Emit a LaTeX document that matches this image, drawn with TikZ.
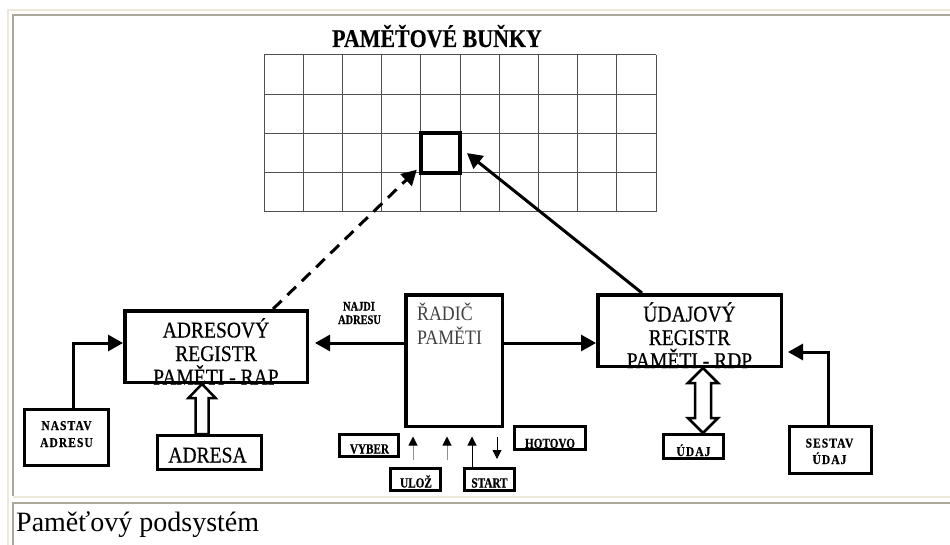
\documentclass[tikz,border=0pt]{standalone}
\usepackage{fontspec}
\setmainfont{Liberation Serif}
\newfontfamily\condfont[FakeStretch=0.87,FakeBold=0.4]{Liberation Serif}
\newfontfamily\radfont[FakeStretch=0.87]{Liberation Serif}
\newfontfamily\lblfont[FakeStretch=0.8,FakeBold=0.6]{Liberation Serif}
\newfontfamily\spacedfont[LetterSpace=8,FakeStretch=0.85,FakeBold=0.5]{Liberation Serif}
\newfontfamily\titlefont[FakeStretch=0.86,FakeBold=0.4]{Liberation Serif}
\usetikzlibrary{arrows.meta,calc}
\definecolor{beigeline}{HTML}{ECE9D8}
\definecolor{grayline}{HTML}{ACA899}
\definecolor{gridline}{HTML}{505050}
\definecolor{radictext}{HTML}{404040}
\definecolor{thinarrow}{HTML}{909090}
\begin{document}
\begin{tikzpicture}[x=1pt,y=-1pt,
  bigbox/.style={draw, line width=3.5pt, inner sep=0pt},
  smallbox/.style={draw, line width=3pt, inner sep=0pt},
  bigtext/.style={font=\condfont\fontsize{22.5}{26}\selectfont, inner sep=0pt, anchor=base},
  radtext/.style={font=\radfont\fontsize{20.5}{24}\selectfont, text=radictext, inner sep=0pt, anchor=base west},
  lbltext/.style={font=\lblfont\fontsize{14}{16}\selectfont\bfseries, inner sep=0pt, anchor=base},
  spacedtext/.style={font=\spacedfont\fontsize{13.5}{15}\selectfont\bfseries, inner sep=0pt, anchor=base},
  arr/.style={line width=3pt, -{Triangle[length=15pt,width=16pt]}},
  smallarr/.style={line width=1pt, -{Triangle[length=9pt,width=9pt,color=black]}},
  hollow/.style={draw, line width=2.5pt, fill=white, line join=miter},
  gridstyle/.style={gridline, line width=1pt}
]
\useasboundingbox (0,0) rectangle (950,545);
\fill[white] (0,0) rectangle (950,545);
% page frame
\fill[beigeline] (7,9) rectangle (950,11);
\fill[beigeline] (7,9) rectangle (9,545);
\fill[grayline] (12,14) rectangle (950,16);
\fill[grayline] (12,14) rectangle (14,496);
\fill[beigeline] (13,496) rectangle (950,498);
\fill[grayline] (12,502) rectangle (950,504);
\fill[grayline] (12,502) rectangle (14,545);

% title
\node[anchor=base, inner sep=0pt, font=\titlefont\bfseries\fontsize{25.5}{28}\selectfont] (title) at (437,47) {PAMĚŤOVÉ BUŇKY};

% memory cells grid
\foreach \i in {0,...,10} \draw[gridstyle] (264+39.2*\i,55) -- (264+39.2*\i,212);
\foreach \j in {0,...,4} \draw[gridstyle] (264,55+39.25*\j) -- (656,55+39.25*\j);
\node[draw, line width=4pt, minimum width=39.2pt, minimum height=39.25pt, inner sep=0pt] (cell) at (440.4,153.1) {};

% boxes
\node[bigbox, minimum width=182.5pt, minimum height=71.5pt] (rap) at (216,346.5) {};
\node[bigbox, minimum width=96.5pt, minimum height=131.5pt] (radic) at (454,360.5) {};
\node[bigbox, minimum width=183.5pt, minimum height=71.5pt] (rdp) at (689.5,330.5) {};
\node[smallbox, minimum width=84pt, minimum height=56pt] (nastav) at (66.5,437.5) {};
\node[smallbox, minimum width=104pt, minimum height=34pt] (adresa) at (209.5,452.5) {};
\node[smallbox, minimum width=59pt, minimum height=22pt] (vyber) at (369,445.5) {};
\node[smallbox, minimum width=50pt, minimum height=22pt] (uloz) at (415.5,479.5) {};
\node[smallbox, minimum width=50pt, minimum height=22pt] (start) at (489.5,479.5) {};
\node[smallbox, minimum width=71pt, minimum height=23pt] (hotovo) at (550,438) {};
\node[smallbox, minimum width=60pt, minimum height=24pt] (udaj) at (693.5,446.5) {};
\node[smallbox, minimum width=82pt, minimum height=47pt] (sestav) at (830.5,450) {};

% texts
\node[bigtext] (rapA) at (216,337.5) {ADRESOVÝ};
\node[bigtext] (rapB) at (216,361) {REGISTR};
\node[bigtext] (rapC) at (216,384.5) {PAMĚTI - RAP};
\node[bigtext] (rdpA) at (689.5,321.5) {ÚDAJOVÝ};
\node[bigtext] (rdpB) at (689.5,345) {REGISTR};
\node[bigtext] (rdpC) at (689.5,368) {PAMĚTI - RDP};
\node[radtext] (radA) at (417,320.5) {ŘADIČ};
\node[radtext] (radB) at (417,344) {PAMĚTI};
\node[bigtext] (adresaT) at (207.5,462.5) {ADRESA};
\node[spacedtext] (nastavA) at (66.5,430) {NASTAV};
\node[spacedtext] (nastavB) at (66.5,447) {ADRESU};
\node[spacedtext] (sestavA) at (829.5,447.5) {SESTAV};
\node[spacedtext] (sestavB) at (829.5,464) {ÚDAJ};
\node[spacedtext] (udajT) at (693.5,456) {ÚDAJ};
\node[lbltext] (vyberT) at (369.5,453.5) {VYBER};
\node[lbltext] (ulozT) at (416,487.5) {ULOŽ};
\node[lbltext] (startT) at (489.5,487.5) {START};
\node[lbltext] (hotovoT) at (550,448) {HOTOVO};
\node[lbltext, font=\lblfont\fontsize{13}{14}\selectfont\bfseries] (najdiA) at (359,310.5) {NAJDI};
\node[lbltext, font=\lblfont\fontsize{13}{14}\selectfont\bfseries] (najdiB) at (359.5,324) {ADRESU};

% connectors
\draw[arr, dash pattern=on 12pt off 8pt] ([xshift=57pt]rap.north) -- ([xshift=-2pt,yshift=5pt]cell.south west);
\draw[arr] ([xshift=-47.5pt]rdp.north) -- ([xshift=5pt]cell.east);
\draw[arr] ([xshift=6.5pt]nastav.north) |- ([yshift=3.5pt]rap.west);
\draw[arr, shorten >=6pt] ([yshift=17.5pt]radic.west) -- ([yshift=17.5pt]radic.west -| rap.east);
\draw[arr] ([yshift=17.5pt]radic.east) -- ([yshift=17.5pt]radic.east -| rdp.west);
\draw[arr, shorten >=5pt] ([xshift=-2.5pt]sestav.north) |- ([yshift=-21.5pt]rdp.east);

% hollow arrow ADRESA -> RAP
\coordinate (hA) at ([xshift=-14pt]rap.south);
\coordinate (hAtip) at (hA |- 0,384);
\path[hollow] (hAtip) -- ++(13.5,14) -- ++(-7,0) -- ++(0,36) -- ++(-13,0) -- ++(0,-36) -- ++(-7,0) -- cycle;

% double hollow arrow RDP <-> UDAJ
\coordinate (hD) at ([xshift=13.5pt]rdp.south);
\coordinate (hDtip) at (hD |- 0,368);
\path[hollow] (hDtip) -- ++(15,15) -- ++(-7,0) -- ++(0,35) -- ++(7,0) -- ++(-15,15) -- ++(-15,-15) -- ++(7,0) -- ++(0,-35) -- ++(-7,0) -- cycle;

% small control arrows
\coordinate (s1) at (413,460);
\coordinate (s2) at (447,460);
\coordinate (s4) at (497,459);
\draw[smallarr, thinarrow, shorten >=8.5pt] (s1) -- (s1 |- radic.south);
\draw[smallarr, thinarrow, shorten >=8.5pt] (s2) -- (s2 |- radic.south);
\draw[smallarr, shorten >=8.5pt] ([xshift=-17.5pt]start.north) -- ([xshift=-17.5pt]start.north |- radic.south);
\draw[smallarr, shorten <=8.5pt] (s4 |- radic.south) -- (s4);

% caption
\node[anchor=base west, inner sep=0pt, font=\fontsize{28}{32}\selectfont] (caption) at (16,531) {Paměťový podsystém};
\end{tikzpicture}
\end{document}
